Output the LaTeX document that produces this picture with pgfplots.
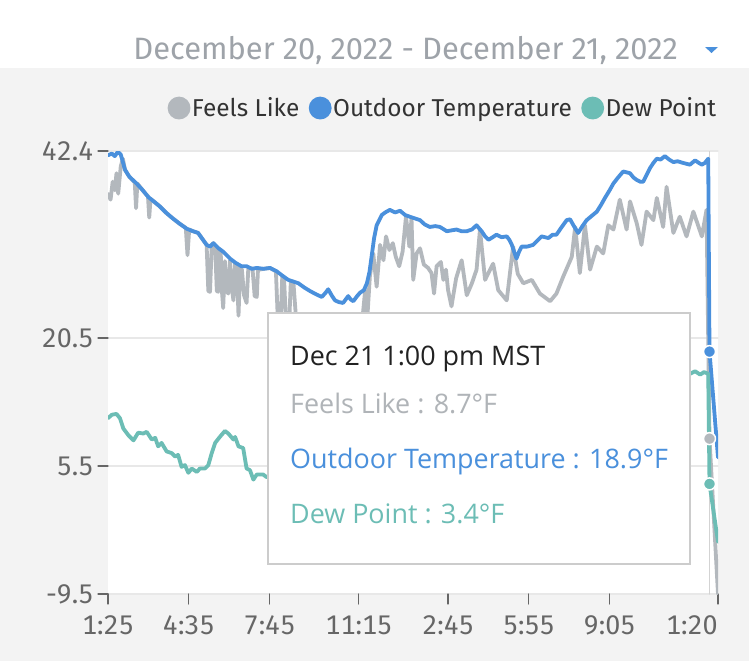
\documentclass[border=0pt]{standalone}
\usepackage{pgfplots}
\usepackage{pgfplotstable}
\pgfplotsset{compat=1.18}
\usepackage{fontspec}
\setmainfont{Fira Sans}
\newfontfamily\tickfont{Fira Sans}[Numbers=Monospaced]
\newfontfamily\tipfont{Open Sans}

\definecolor{pagegray}{HTML}{F3F3F3}
\definecolor{feels}{HTML}{B3B8BD}
\definecolor{outdoor}{HTML}{4A90DC}
\definecolor{dew}{HTML}{6CBDB5}
\definecolor{ticktext}{HTML}{666666}
\definecolor{legtext}{HTML}{333333}
\definecolor{titletext}{HTML}{9EA3A9}
\definecolor{gridc}{HTML}{E8E8E8}
\definecolor{boxline}{HTML}{CCCCCC}
\definecolor{tipgray}{HTML}{B0B4B8}
\definecolor{tipdark}{HTML}{222222}

% minutes after 1:25 pm MST, Dec 20 -- temperatures in deg F
\pgfplotstableread{
min temp
0 41.9
9 42.1
16 41.8
23 42.3
30 42.0
40 40.2
50 39.4
67 38.6
80 37.9
95 37.0
110 36.4
122 35.9
136 35.2
150 34.6
168 33.9
185 33.3
200 33.0
212 32.8
222 32.1
232 31.4
240 31.2
248 31.6
260 31.0
271 30.6
287 29.8
300 29.3
314 28.9
326 28.9
338 28.6
350 28.7
366 28.6
381 28.7
397 28.3
410 27.8
424 27.3
436 27.1
448 26.9
462 26.4
475 26.0
490 25.6
503 25.3
512 25.8
518 26.2
526 25.5
534 24.9
543 24.7
553 24.6
565 25.4
571 25.0
577 24.8
586 25.4
593 25.8
602 26.1
609 26.9
615 28.2
620 30.0
626 32.2
632 33.7
644 34.9
652 35.2
663 35.5
675 35.2
687 35.4
699 34.9
710 34.7
722 34.5
734 34.3
745 33.8
757 33.5
770 33.6
781 33.5
797 33.0
808 33.1
820 33.2
832 33.0
844 33.0
856 33.2
867 33.7
872 33.4
879 33.0
887 32.4
895 32.0
905 32.3
914 32.6
926 32.3
938 32.4
944 32.0
950 31.4
956 30.5
961 29.8
967 30.6
973 31.2
986 31.2
1000 31.4
1010 31.9
1020 32.4
1036 32.2
1046 32.6
1055 32.6
1066 33.4
1079 34.3
1087 34.4
1096 33.6
1106 32.8
1116 33.6
1126 34.3
1138 34.8
1150 35.3
1160 36.1
1169 36.9
1180 37.8
1189 38.6
1200 39.3
1212 40.0
1220 39.9
1228 39.8
1236 39.3
1244 39.0
1252 38.8
1259 38.8
1267 39.6
1275 40.4
1283 41.0
1291 41.5
1300 41.4
1310 41.8
1320 41.4
1330 41.1
1340 41.2
1353 41.0
1361 40.9
1369 40.8
1381 41.3
1390 41.0
1397 40.8
1404 41.0
1412 41.5
1415 18.9
1435 6.5
}\outdoortable

\pgfplotstableread{
min temp
0 37.4
6 36.7
11 38.8
16 37.8
20 39.8
24 37.4
30 40.6
35 41.5
40 40.2
50 39.4
59 38.9
63 38.7
66 35.7
69 38.6
80 37.9
90 37.3
94 37.1
97 34.6
100 36.8
110 36.4
122 35.9
136 35.2
150 34.6
168 33.9
183 33.4
187 30.2
191 33.2
200 33.0
212 32.8
222 32.1
232 31.4
236 26.0
240 25.9
244 31.4
248 31.6
252 31.3
256 26.0
259 25.9
262 30.9
265 30.8
268 26.0
271 24.0
275 29.5
279 26.0
283 25.7
287 29.6
291 26.5
295 24.9
299 29.2
303 28.9
307 23.1
311 28.7
315 28.5
320 25.5
326 24.6
330 28.6
334 28.7
340 28.6
345 25.4
350 25.3
353 28.7
356 28.5
366 28.6
381 28.7
395 28.3
400 22.0
405 20.5
410 27.8
414 27.6
420 21.0
424 19.5
430 27.0
436 27.1
445 21.0
475 20.0
499 19.0
522 19.5
546 18.5
569 19.5
593 21.0
600 23.5
605 26.1
609 22.0
616 27.7
624 30.4
632 26.5
640 31.4
648 29.6
654 32.4
662 30.8
670 31.6
677 30.0
685 28.9
693 30.6
701 34.7
709 31.2
714 34.5
718 27.3
726 30.4
734 31.0
743 29.1
753 28.7
761 28.1
767 25.7
773 28.9
783 29.4
789 27.3
795 28.5
800 26.1
808 24.2
819 27.5
832 29.6
844 25.5
856 26.9
867 28.5
875 33.2
887 27.3
906 29.2
918 26.1
938 24.9
953 31.2
964 28.0
977 26.9
997 27.3
1016 25.7
1040 24.8
1055 25.7
1071 27.7
1091 30.0
1099 33.5
1110 28.1
1122 33.7
1134 28.5
1150 31.2
1165 30.4
1177 33.7
1189 33.2
1204 36.7
1220 33.2
1228 36.5
1244 33.9
1255 31.4
1267 35.3
1283 34.3
1291 36.9
1306 33.5
1314 38.2
1330 32.8
1345 34.7
1361 32.4
1377 35.3
1397 32.4
1408 35.5
1415 8.7
1435 -9.5
}\feelstable

\pgfplotstableread{
min temp
0 11.1
9 11.5
20 11.6
28 11.1
36 9.9
48 9.1
60 8.5
71 9.4
83 9.3
91 9.5
103 8.6
111 8.8
118 7.8
126 8.2
138 7.2
150 7.0
158 6.6
165 6.8
173 5.4
181 5.6
189 4.7
197 5.2
209 4.8
216 5.2
228 5.2
236 5.6
244 7.0
252 8.2
263 8.9
275 9.6
283 9.3
295 8.6
299 8.9
307 7.8
318 7.6
326 5.2
334 5.0
342 3.9
350 4.5
365 4.5
373 4.2
400 4.3
450 4.8
520 5.2
600 6.0
700 7.5
800 9.0
900 10.5
1000 12.0
1100 13.5
1200 15.0
1300 15.8
1369 16.3
1381 16.6
1393 16.2
1402 16.5
1412 16.3
1415 3.4
1435 -3.4
}\dewtable

\begin{document}
\begin{tikzpicture}
% page background: white header strip, light gray body
\fill[white] (0,0) rectangle (749bp,-68bp);
\fill[pagegray] (0,-68bp) rectangle (749bp,-661bp);

% date range selector
\node[anchor=base east, text=titletext, font=\fontsize{31}{36}\selectfont, inner sep=0pt]
  at (678bp,-59bp) {December 20, 2022 - December 21, 2022};
\fill[outdoor] (705bp,-47bp) -- (718bp,-47bp) -- (711.5bp,-53bp) -- cycle;

\begin{axis}[
  at={(108bp,-594bp)}, anchor=south west,
  scale only axis, width=610bp, height=443bp,
  xmin=0, xmax=1435, ymin=-9.5, ymax=42.4,
  axis background/.style={fill=white},
  separate axis lines,
  axis x line*=bottom, axis y line*=left,
  axis line style={draw=none},
  xtick={0,190,380,590,800,990,1180},
  xticklabels={1:25,4:35,7:45,11:15,2:45,5:55,9:05},
  extra x ticks={1435},
  extra x tick labels={1:20},
  extra x tick style={xticklabel style={anchor=north east, inner xsep=0pt}},
  ytick={-9.5,5.5,20.5,42.4},
  yticklabels={-9.5,5.5,20.5,42.4},
  ymajorgrids, grid style={gridc, line width=1.2bp},
  tick align=outside, major tick length=10bp,
  tick style={ticktext, line width=1.2bp},
  tick label style={font=\tickfont\fontsize{27}{32}\selectfont, text=ticktext},
  xticklabel style={yshift=-8bp},
  yticklabel style={xshift=-1bp},
  legend columns=3,
  legend style={at={(1,1)}, anchor=south east, yshift=31bp,
    draw=none, fill=none, inner sep=0pt,
    font=\fontsize{24.5}{28}\selectfont, text=legtext,
    nodes={inner sep=1.5bp},
    /tikz/every even column/.append style={column sep=8bp}},
  legend image code/.code={\fill (9.5bp,0bp) circle (9.5bp);},
  line join=round, line cap=round,
]
% hover guide at 1:00 pm
\addplot[forget plot, color=gridc!80!gray, line width=1.2bp] coordinates {(1415,-9.5) (1415,42.4)};

\addplot[color=feels, line width=3.8bp] table[x=min, y=temp] {\feelstable};
\addlegendentry{Feels Like}
\addplot[color=outdoor, line width=3.8bp] table[x=min, y=temp] {\outdoortable};
\addlegendentry{Outdoor Temperature}
\addplot[color=dew, line width=3.8bp] table[x=min, y=temp] {\dewtable};
\addlegendentry{Dew Point}

% hovered readings
\addplot[forget plot, only marks, mark=*, mark size=6bp, mark options={fill=feels, draw=white, line width=1.5bp}] coordinates {(1415,8.7)};
\addplot[forget plot, only marks, mark=*, mark size=6bp, mark options={fill=outdoor, draw=white, line width=1.5bp}] coordinates {(1415,18.9)};
\addplot[forget plot, only marks, mark=*, mark size=6bp, mark options={fill=dew, draw=white, line width=1.5bp}] coordinates {(1415,3.4)};
\end{axis}

% tooltip
\draw[boxline, line width=1.6bp, fill=white] (268bp,-313bp) rectangle (690bp,-564bp);
\begin{scope}[every node/.style={anchor=base west, inner sep=0pt, font=\tipfont\fontsize{27}{31}\selectfont}]
\node[text=tipdark] at (290bp,-365bp) {Dec 21 1:00 pm MST};
\node[text=tipgray] at (290bp,-413bp) {Feels Like : 8.7°F};
\node[text=outdoor] at (290bp,-468bp) {Outdoor Temperature : 18.9°F};
\node[text=dew] at (290bp,-523bp) {Dew Point : 3.4°F};
\end{scope}
\end{tikzpicture}
\end{document}
